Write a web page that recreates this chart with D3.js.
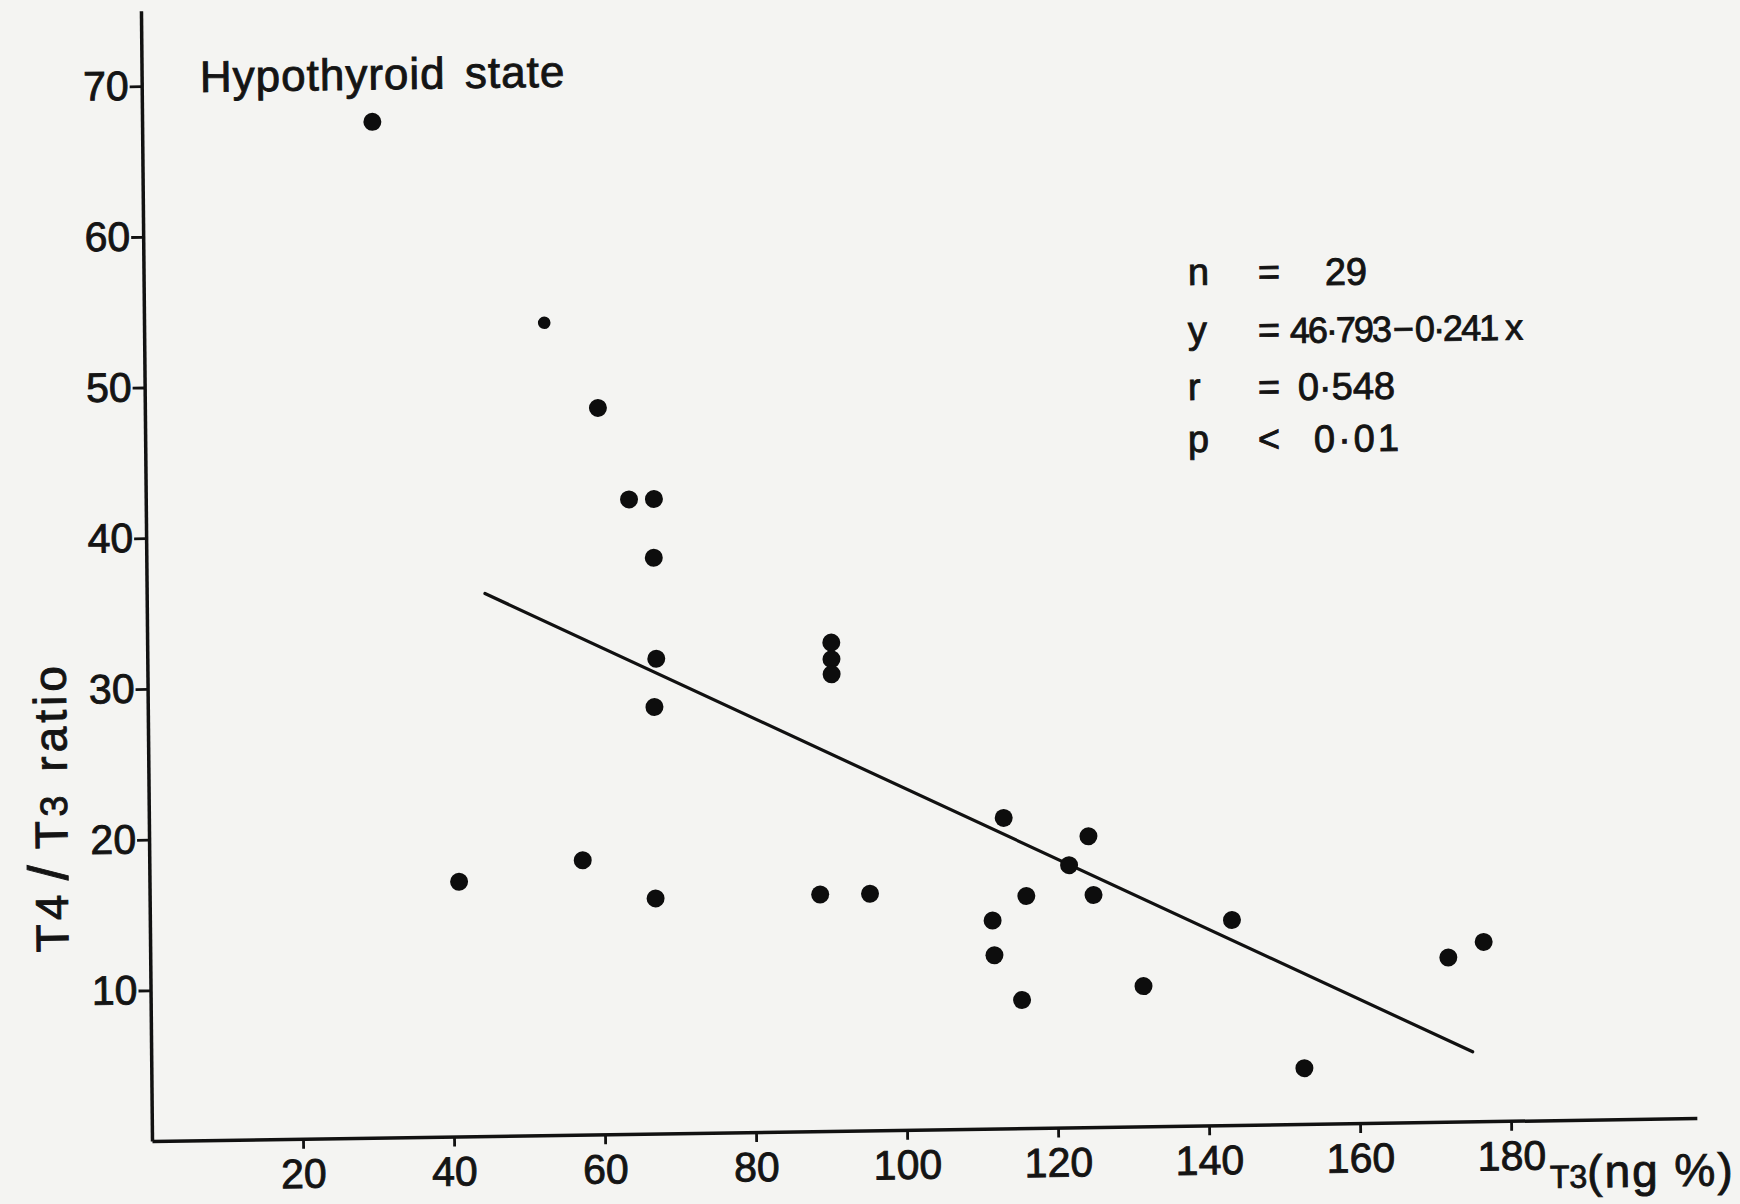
<!DOCTYPE html>
<html>
<head>
<meta charset="utf-8">
<script src="https://cdn.jsdelivr.net/npm/d3@7"></script>
<style>
  html, body { margin: 0; padding: 0; background: #f4f4f2; }
  svg { display: block; }
  text { font-family: "Liberation Sans", Arial, sans-serif; fill: #141414;
         stroke: #141414; stroke-width: 0.9px; }
</style>
</head>
<body>
<svg id="chart" width="1740" height="1204"></svg>
<script>
// T3 (ng %) and T4/T3 ratio for each patient in the hypothyroid group
const t3Values = [30.5, 53, 60, 64, 67.3, 67.2, 67.4, 67.1, 90.6, 90.6, 90.6,
                  41, 57.4, 67, 88.8, 95.4, 113.2, 124.4, 121.8, 111.6, 116.1,
                  125, 111.8, 115.4, 131.5, 143.3, 152.7, 171.9, 176.6];
const ratioValues = [67.4, 53.9, 48.2, 42.1, 42.1, 38.2, 31.5, 28.3, 32.4, 31.3, 30.3,
                     16.9, 18.2, 15.6, 15.7, 15.7, 20.6, 19.3, 17.4, 13.8, 15.4,
                     15.4, 11.5, 8.5, 9.3, 13.6, 3.7, 10.9, 11.9];

// axis ticks
const xTickValues = [20, 40, 60, 80, 100, 120, 140, 160, 180];
const yTickValues = [10, 20, 30, 40, 50, 60, 70];
const xDomain = [0, 204.6];
const yDomain = [0, 75];

// least-squares fit  y = a + b x
const fitIntercept = 46.793;
const fitSlope = -0.241;
const fitRange = [44.8, 175];

// statistics block (the fit equation is written out piece by piece)
const statNames = ["n", "y", "r", "p"];
const statRelations = ["=", "=", "=", "<"];
const statResults = [["29"], ["46·793", "−", "0·241", "x"], ["0·548"], ["0·01"]];

const panelTitle = "Hypothyroid state";

// ---------------------------------------------------------------------------
const svg = d3.select("#chart");

// the sheet sits slightly askew: x axis rises to the right, y axis leans
const origin = [152, 1141];
const tiltX = 0.85 * Math.PI / 180;
const tiltY = 0.56 * Math.PI / 180;
const m = { a: Math.cos(tiltX), b: -Math.sin(tiltX), c: Math.sin(tiltY), d: Math.cos(tiltY),
            e: origin[0], f: origin[1] };
const det = m.a * m.d - m.b * m.c;
function toLocal(sx, sy) {
  const dx = sx - m.e, dy = sy - m.f;
  return [(m.d * dx - m.c * dy) / det, (-m.b * dx + m.a * dy) / det];
}

const page = svg.append("g")
  .attr("transform", `matrix(${m.a},${m.b},${m.c},${m.d},${m.e},${m.f})`);

const x = d3.scaleLinear().domain(xDomain).range([0, 1545]);
const y = d3.scaleLinear().domain(yDomain).range([0, -1130.3]);

// x axis
const gx = page.append("g")
  .call(d3.axisBottom(x).tickValues(xTickValues).tickSize(10).tickPadding(10).tickSizeOuter(0));
gx.select(".domain").attr("stroke", "#111").attr("stroke-width", 3.5);
gx.selectAll(".tick line").attr("stroke", "#111").attr("stroke-width", 2.8);
gx.selectAll(".tick text")
  .attr("font-family", "'Liberation Sans Narrow', 'Liberation Sans', Arial, sans-serif")
  .attr("font-size", 41).attr("fill", "#141414");

// y axis
const gy = page.append("g")
  .call(d3.axisLeft(y).tickValues(yTickValues).tickSize(12).tickPadding(1).tickSizeOuter(0));
gy.select(".domain").attr("stroke", "#111").attr("stroke-width", 3.5);
gy.selectAll(".tick line").attr("stroke", "#111").attr("stroke-width", 2.8);
gy.selectAll(".tick text")
  .attr("font-family", "'Liberation Sans', Arial, sans-serif")
  .attr("font-size", 41).attr("fill", "#141414");

// regression line
page.append("line")
  .attr("x1", x(fitRange[0])).attr("y1", y(fitIntercept + fitSlope * fitRange[0]))
  .attr("x2", x(fitRange[1])).attr("y2", y(fitIntercept + fitSlope * fitRange[1]))
  .attr("stroke", "#111").attr("stroke-width", 3.2).attr("stroke-linecap", "round");

// patients
page.selectAll("circle.pt")
  .data(d3.zip(t3Values, ratioValues))
  .join("circle")
  .attr("class", "pt")
  .attr("cx", d => x(d[0]))
  .attr("cy", d => y(d[1]))
  .attr("r", (d, i) => i === 1 ? 6.3 : 9)
  .attr("fill", "#0d0d0d");

// panel title
{
  const p = toLocal(200, 92);
  page.append("text").attr("x", p[0]).attr("y", p[1])
    .attr("font-size", 44).attr("letter-spacing", 1).attr("word-spacing", 6).text(panelTitle);
}

// statistics block
const rowBase = [285, 343, 400, 452];
const valueLeft = [1325, 1290, 1298, 1314];
const valueSpacing = [0, -2, 0, 3];
const valueSize = [38, 36, 38, 38];
const pieceGap = [0, 3, 3, 8];
statNames.forEach((s, i) => {
  const a = toLocal(1188, rowBase[i]);
  page.append("text").attr("x", a[0]).attr("y", a[1]).attr("font-size", 38).text(s);
  const b = toLocal(1258, rowBase[i]);
  page.append("text").attr("x", b[0]).attr("y", b[1]).attr("font-size", 38).text(statRelations[i]);
  const c = toLocal(valueLeft[i], rowBase[i]);
  const t = page.append("text").attr("x", c[0]).attr("y", c[1])
    .attr("font-size", valueSize[i]).attr("letter-spacing", valueSpacing[i]);
  statResults[i].forEach((piece, k) => {
    t.append("tspan").attr("dx", pieceGap[k]).text(piece);
  });
});

// y axis title
{
  const p = toLocal(67, 807);
  const t = page.append("text")
    .attr("transform", `translate(${p[0]},${p[1]}) rotate(-90)`)
    .attr("text-anchor", "middle").attr("font-size", 46).attr("letter-spacing", 4);
  t.append("tspan").text("T4");
  t.append("tspan").attr("dx", 10).attr("font-size", 56).text("/");
  t.append("tspan").attr("dx", 12).text("T");
  t.append("tspan").attr("font-size", 38).text("3");
  t.append("tspan").attr("dx", 20).text("ratio");
}

// x axis title
{
  const p = toLocal(1550, 1188);
  const t = page.append("text").attr("x", p[0]).attr("y", p[1]).attr("font-size", 46)
    .attr("letter-spacing", 2);
  t.append("tspan").attr("font-size", 32).attr("letter-spacing", 0).text("T3");
  t.append("tspan").text("(ng %)");
}
</script>
</body>
</html>
